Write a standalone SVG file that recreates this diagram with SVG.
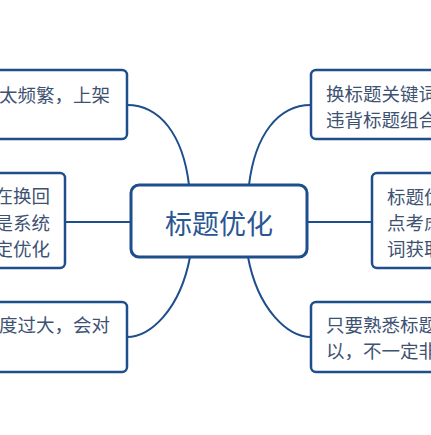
<svg xmlns="http://www.w3.org/2000/svg" width="431" height="435" viewBox="0 0 431 435">
<style>
.box{fill:#ffffff;stroke:#1f4e8c;stroke-width:2.5}
.main{fill:#ffffff;stroke:#1f4e8c;stroke-width:3}
.conn{fill:none;stroke:#1f4e8c;stroke-width:2}
.leaf{font-family:"Noto Sans CJK SC","Noto Sans",sans-serif;font-size:18.5px;fill:#3e5272;dominant-baseline:central}
.title{font-family:"Noto Sans CJK SC","Noto Sans",sans-serif;font-size:27px;fill:#2a5694;dominant-baseline:central;text-anchor:middle}
.end{text-anchor:end}
</style>
<rect width="431" height="435" fill="#ffffff"/>
<g id="connectors">
<path class="conn" d="M127,105 C160,105 183,135 189,185"/>
<path class="conn" d="M311,105 C278,105 255,135 249,185"/>
<path class="conn" d="M65,222 L131,222"/>
<path class="conn" d="M307,222 L372,222"/>
<path class="conn" d="M190,257 C180,310 150,337 127,337"/>
<path class="conn" d="M248,257 C258,310 288,337 311,337"/>
</g>
<g id="center">
<rect class="main" x="131" y="185" width="176" height="72" rx="8"/>
<text class="title" x="219" y="222">标题优化</text>
</g>
<g id="top-left">
<rect class="box" x="-100" y="70" width="227" height="69" rx="5"/>
<text class="leaf end" x="110" y="94">太频繁，上架</text>
</g>
<g id="mid-left">
<rect class="box" x="-100" y="173" width="165" height="95" rx="5"/>
<text class="leaf end" x="50" y="195">在换回</text>
<text class="leaf end" x="50" y="222">是系统</text>
<text class="leaf end" x="50" y="248">定优化</text>
</g>
<g id="bottom-left">
<rect class="box" x="-100" y="302" width="227" height="70" rx="5"/>
<text class="leaf end" x="110" y="324">度过大，会对</text>
</g>
<g id="top-right">
<rect class="box" x="311" y="70" width="200" height="69" rx="5"/>
<text class="leaf" x="326" y="93">换标题关键词</text>
<text class="leaf" x="326" y="119">违背标题组合</text>
</g>
<g id="mid-right">
<rect class="box" x="372" y="173" width="150" height="95" rx="5"/>
<text class="leaf" x="387" y="196">标题优</text>
<text class="leaf" x="387" y="222">点考虑</text>
<text class="leaf" x="387" y="248">词获取</text>
</g>
<g id="bottom-right">
<rect class="box" x="311" y="302" width="200" height="70" rx="5"/>
<text class="leaf" x="326" y="324">只要熟悉标题</text>
<text class="leaf" x="326" y="350">以，不一定非</text>
</g>
</svg>
